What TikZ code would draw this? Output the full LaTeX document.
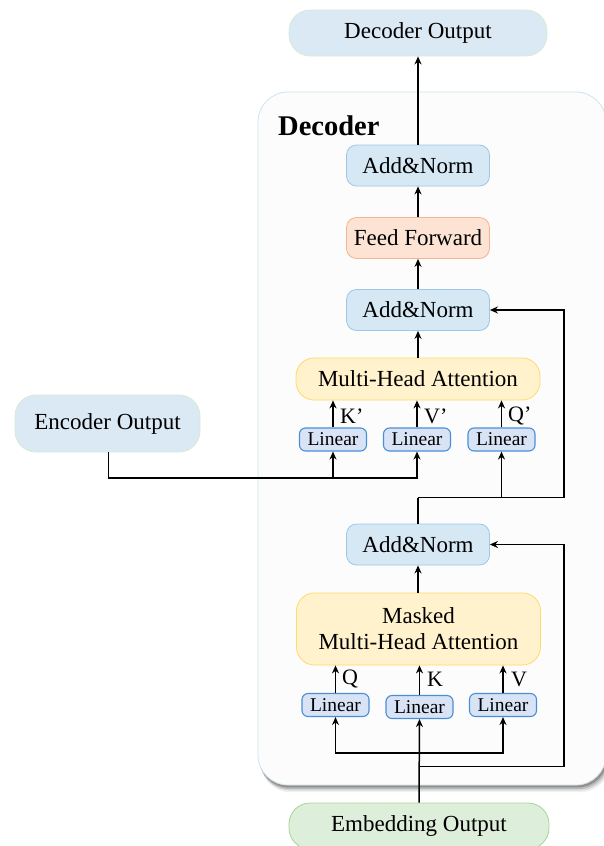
\documentclass[tikz,border=0pt]{standalone}
\usepackage{fontspec}
\setmainfont{Liberation Serif}
\usetikzlibrary{arrows.meta}

\definecolor{ioFill}{HTML}{DAE9F4}
\definecolor{ioLine}{HTML}{D6EBD4}
\definecolor{embFill}{HTML}{DDEFDA}
\definecolor{embLine}{HTML}{A3D692}
\definecolor{normFill}{HTML}{D7E8F5}
\definecolor{normLine}{HTML}{9CC7E8}
\definecolor{ffFill}{HTML}{FCE3D4}
\definecolor{ffLine}{HTML}{F5B48A}
\definecolor{attFill}{HTML}{FFF2CC}
\definecolor{attLine}{HTML}{FFDA6A}
\definecolor{linFill}{HTML}{D8E4F5}
\definecolor{linLine}{HTML}{4A8ED8}
\definecolor{boxFill}{HTML}{FCFCFC}
\definecolor{boxLine}{HTML}{CFE3EE}

\begin{document}
\begin{tikzpicture}[x=1pt,y=-1pt,
  every node/.style={inner sep=0pt, font=\fontsize{23}{26}\selectfont},
  io/.style={draw=ioLine, fill=ioFill, line width=0.8pt, rounded corners=21pt},
  norm/.style={draw=normLine, fill=normFill, line width=0.8pt, rounded corners=10pt,
    minimum width=143pt, minimum height=41pt},
  ffbox/.style={norm, draw=ffLine, fill=ffFill},
  att/.style={draw=attLine, fill=attFill, line width=0.8pt, rounded corners=18pt,
    minimum width=244pt, align=center},
  lin/.style={draw=linLine, fill=linFill, line width=1.1pt, rounded corners=6pt,
    minimum width=67pt, minimum height=23pt, font=\fontsize{19.5}{21}\selectfont},
  lbl/.style={anchor=west, font=\fontsize{22}{24}\selectfont},
  arr/.style={-{Stealth[length=8pt,width=7pt]}, line width=1.5pt},
  wire/.style={line width=1.5pt}
]
\useasboundingbox (0,0) rectangle (603,846);

% decoder container with a soft shadow
\foreach \d/\o in {9/0.06,7/0.10,5/0.15,3/0.22}
  \fill[black, opacity=\o, rounded corners=30pt]
    (258+\d*0.3,92+\d) rectangle (606+\d*0.5,785+\d*0.8);
\draw[draw=boxLine, fill=boxFill, line width=0.8pt, rounded corners=30pt]
  (258,92) rectangle (606,785);
\node[anchor=west, font=\bfseries\fontsize{28.5}{30}\selectfont] (title) at (278,126) {Decoder};

% outer inputs and output
\node[io, minimum width=258pt, minimum height=46pt] (dout) at (418,33) {Decoder Output};
\node[io, minimum width=185pt, minimum height=57pt] (enc) at (107.5,423.5) {Encoder Output};
\node[io, draw=embLine, fill=embFill, minimum width=260pt, minimum height=46pt] (emb) at (419,826) {Embedding Output};

% upper block
\node[norm] (an1) at (418,165.5) {Add\&Norm};
\node[ffbox] (ff) at (418,238) {Feed Forward};
\node[norm] (an2) at (418,310) {Add\&Norm};
\node[att, minimum height=42pt] (mha) at (418,379) {Multi-Head Attention};
\node[lin] (lk) at (333,439.5) {Linear};
\node[lin] (lv) at (417,439.5) {Linear};
\node[lin] (lq) at (501.5,439.5) {Linear};
\node[lbl] (tk) at (340,416) {K’};
\node[lbl] (tv) at (424,416) {V’};
\node[lbl] (tq) at (508,416) {Q’};

% lower block
\node[norm] (an3) at (418,544.5) {Add\&Norm};
\node[att, minimum height=72pt] (mmha) at (418.5,629) {Masked\\Multi-Head Attention};
\node[lin] (lq2) at (335.5,705) {Linear};
\node[lin] (lk2) at (419.5,707) {Linear};
\node[lin] (lv2) at (503,705) {Linear};
\node[lbl] (tq2) at (342,679) {Q};
\node[lbl] (tk2) at (427,679) {K};
\node[lbl] (tv2) at (511,679) {V};

% junction points
\coordinate (encbus) at (417,478);
\coordinate (qbus) at (418,497.5);
\coordinate (res1) at (564,497.5);
\coordinate (embbus) at (419,753);
\coordinate (embres) at (419,766.5);
\coordinate (res2) at (564,766.5);

% main vertical flow
\draw[arr] (an1.north) -- (dout.south);
\draw[arr] (ff.north) -- (an1.south);
\draw[arr] (an2.north) -- (ff.south);
\draw[arr] (mha.north) -- (an2.south);
\draw[arr] (lk.north) -- (lk.north |- mha.south);
\draw[arr] (lv.north) -- (lv.north |- mha.south);
\draw[arr] (lq.north) -- (lq.north |- mha.south);

% encoder output feeds K' and V'
\draw[arr] (enc.south -| 108.5,0) |- (encbus) -- (lv.south);
\draw[arr] (lk.south |- encbus) -- (lk.south);

% lower Add&Norm feeds Q' and the residual
\draw[wire] (an3.north) -- (qbus);
\draw[arr] (qbus) -| (lq.south);
\draw[arr] (qbus) -- (res1) |- (an2.east);

\draw[arr] (mmha.north -| an3.south) -- (an3.south);
\draw[arr] (lq2.north) -- (lq2.north |- mmha.south);
\draw[arr] (lk2.north) -- (lk2.north |- mmha.south);
\draw[arr] (lv2.north) -- (lv2.north |- mmha.south);

% embedding output feeds Q, K, V and the residual
\draw[arr] (emb.north) -- (lk2.south);
\draw[arr] (embbus) -| (lq2.south);
\draw[arr] (embbus) -| (lv2.south);
\draw[arr] (embres) -- (res2) |- (an3.east);
\end{tikzpicture}
\end{document}
